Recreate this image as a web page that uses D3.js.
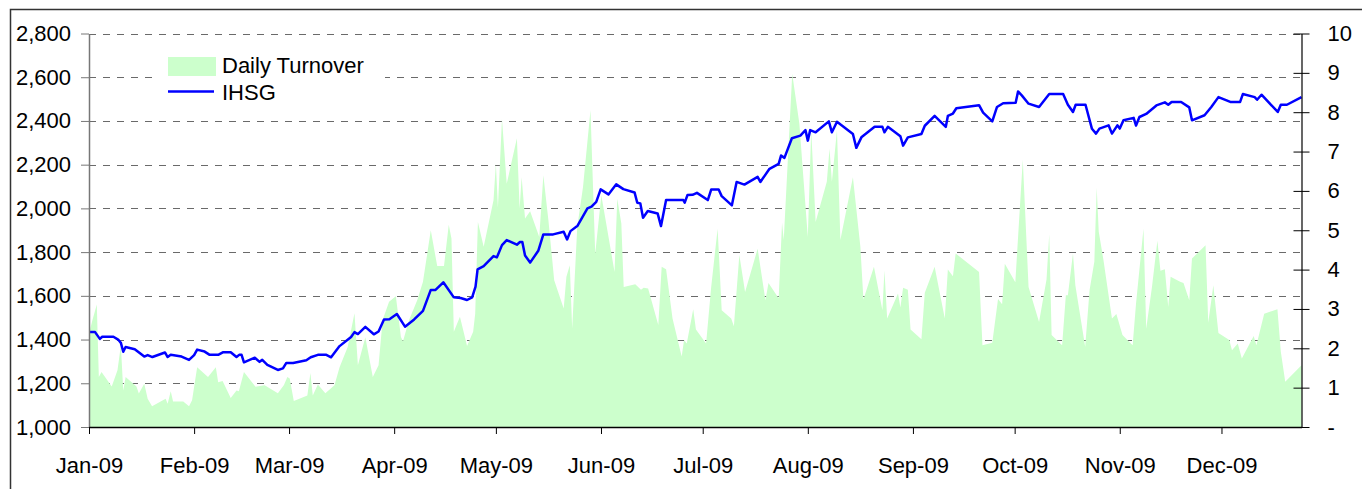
<!DOCTYPE html>
<html>
<head>
<meta charset="utf-8">
<script src="https://cdn.jsdelivr.net/npm/d3@7"></script>
<style>
  html, body { margin: 0; padding: 0; background: #ffffff; }
  svg { display: block; font-family: "Liberation Sans", Arial, sans-serif; }
</style>
</head>
<body>
<div id="chart"></div>
<script>
// IHSG index vs daily turnover, 2009
// Days are counted from 1 Jan 2009 (day 0)

const ihsgDays = [
  0, 1.8, 3.2, 3.9, 7.2, 8.6, 9.4, 10.1, 10.8, 13.5, 16.3, 17.3, 18.7, 22.4, 23.2, 24.1,
  27.3, 29.5, 31, 31.9, 34.1, 35.6, 38.1, 39.6, 41.8, 43.5, 44.3, 45, 45.7, 48.9, 50.3, 51.1,
  52.6, 55.7, 57.2, 58.2, 60.2, 64.1, 65.4, 67.5, 70, 71.4, 73.9, 77.3, 78.3, 79.3, 81.5, 84,
  85.4, 87, 88.6, 90.8, 93.2, 95.9, 98.5, 100.8, 102.2, 104.5, 107.6, 109.6, 111.5, 113, 114, 114.6,
  116.4, 119.3, 120.3, 121.8, 123.2, 126.2, 127.1, 127.8, 128.6, 130.1, 132.5, 134, 136.9, 140, 141, 142,
  144.1, 147, 148.2, 149.6, 150.9, 153.2, 155.5, 157.6, 160.9, 161.7, 162.6, 163.4, 164.8, 167.7, 168.7, 170.2,
  175.3, 175.7, 176.5, 178, 179.3, 182.5, 183.5, 185.7, 186.6, 189.6, 191, 193.3, 197.2, 198, 200.7, 203.4,
  204.1, 205.1, 207.3, 209.8, 211.3, 212, 212.7, 214.3, 218.2, 219.1, 220.6, 225.3, 226.3, 227.8, 231.7, 234,
  234.6, 235.6, 239.3, 240.1, 241.5, 245.5, 246.5, 249.4, 252.7, 253.3, 254.8, 255.8, 262.5, 263.7, 266.4, 267.8,
  269.6, 273.3, 274, 275.1, 277.1, 280.2, 283.2, 287.3, 288.7, 290.2, 291, 293.9, 295.8, 297, 298, 300.7,
  301.7, 303.3, 304, 305.1, 308.1, 308.8, 309.8, 311.8, 314.8, 317.3, 318.3, 319.3, 322.1, 324.5, 325.3, 329,
  331, 333.1, 336.6, 339.5, 340.3, 343.8, 344.5, 345.8, 350.6, 351.5, 353.3, 357.6
];
const ihsgValues = [
  1434, 1434, 1403, 1413, 1413, 1400, 1385, 1344, 1366, 1356, 1322, 1329, 1320, 1341, 1320, 1330,
  1322, 1307, 1329, 1354, 1345, 1330, 1330, 1342, 1342, 1320, 1330, 1330, 1296, 1317, 1298, 1307,
  1284, 1261, 1268, 1293, 1293, 1305, 1319, 1330, 1330, 1319, 1370, 1412, 1434, 1425, 1458, 1424,
  1437, 1492, 1493, 1517, 1459, 1492, 1531, 1627, 1627, 1662, 1593, 1590, 1581, 1593, 1642, 1721,
  1736, 1782, 1776, 1832, 1855, 1834, 1846, 1846, 1784, 1752, 1806, 1881, 1881, 1893, 1858, 1896,
  1921, 2000, 2008, 2030, 2087, 2064, 2110, 2088, 2073, 2026, 2023, 1957, 1988, 1977, 1919, 2038,
  2038, 2026, 2061, 2062, 2071, 2038, 2086, 2086, 2056, 2014, 2121, 2109, 2144, 2121, 2181, 2204,
  2242, 2231, 2321, 2333, 2358, 2310, 2358, 2348, 2398, 2348, 2396, 2340, 2277, 2325, 2373, 2373,
  2348, 2373, 2330, 2287, 2325, 2340, 2378, 2423, 2373, 2423, 2434, 2458, 2472, 2438, 2398, 2464,
  2481, 2483, 2535, 2517, 2479, 2464, 2523, 2523, 2474, 2441, 2474, 2474, 2364, 2342, 2365, 2380,
  2342, 2380, 2365, 2403, 2414, 2379, 2418, 2432, 2471, 2485, 2474, 2487, 2487, 2462, 2403, 2426,
  2464, 2509, 2487, 2487, 2523, 2509, 2497, 2520, 2441, 2474, 2474, 2509
];

const turnoverDays = [
  0, 1, 2.3, 2.9, 3.7, 6.7, 8.4, 9.4, 10.1, 10.8, 14, 14.7, 16.3, 17.3, 18.6, 22.6,
  23.2, 24.1, 24.8, 27.8, 29.5, 30.4, 31.9, 35.1, 37.4, 38.1, 39.4, 41.8, 43.5, 44.2, 45.7, 49.1,
  51.8, 55.7, 57.5, 58.5, 59.2, 60.4, 64.4, 65.3, 66, 67.5, 69.7, 72.4, 73.9, 76.3, 78.3, 79.3,
  81.5, 83.7, 85.4, 86.6, 88.5, 90.5, 92, 92.6, 94.4, 96.8, 98.5, 100.8, 102.7, 104.7, 106.1, 106.9,
  107.6, 109.4, 111.5, 113.3, 113.9, 114.7, 116.4, 119.3, 120, 120.6, 121.8, 123.2, 126.2, 127, 127.6, 128.6,
  130.1, 132.8, 134, 135.5, 137.2, 140, 140.8, 141.8, 142.5, 144, 145.7, 147.9, 149.3, 151.1, 155, 155.8,
  157, 157.7, 161.1, 162.8, 163.6, 164.9, 167.9, 168.9, 170.2, 172.1, 174.8, 175.5, 176.3, 178.2, 179, 182,
  183.5, 185.4, 186.6, 189.4, 190.2, 191.8, 193.5, 197.2, 199.5, 200.4, 203.4, 204.4, 204.9, 207.4, 209.5, 212,
  213, 214.3, 217.6, 218.4, 219.1, 220.6, 221.6, 225.3, 227.5, 228.4, 231.5, 234, 234.6, 235.4, 238.6, 239.3,
  240.1, 241.5, 242.3, 245.5, 246.5, 249.4, 252.4, 253.3, 254.8, 255.6, 262.5, 263.5, 266.4, 268.1, 269.3, 270.1,
  273.2, 275.4, 277.1, 280.2, 282.4, 283.2, 283.9, 287, 288.1, 288.7, 290.2, 290.9, 293.8, 295.1, 296.5, 297.2,
  297.8, 299.2, 301.7, 303, 304.8, 307.8, 308.8, 311, 311.8, 313.5, 315.1, 316, 317.3, 318.3, 319, 321.8,
  322.8, 324.5, 325.3, 329.3, 330.1, 331.6, 333.1, 336.3, 337.1, 338.8, 340, 343.5, 344.3, 346.6, 350.5, 351.5,
  352.8, 357.6
];
const turnoverValues = [
  2.37, 2.71, 3.11, 1.27, 1.40, 1.03, 1.44, 2.07, 0.93, 1.27, 1.03, 0.85, 1.10, 0.72, 0.53, 0.72,
  0.59, 0.91, 0.65, 0.65, 0.53, 0.68, 1.52, 1.27, 1.52, 1.14, 1.17, 0.74, 0.93, 0.91, 1.40, 1.02,
  1.06, 0.86, 1.07, 1.27, 1.23, 0.66, 0.80, 1.37, 0.80, 1.08, 0.86, 1.06, 1.52, 2.03, 2.89, 1.57,
  2.28, 1.27, 1.57, 2.72, 3.18, 3.32, 2.29, 2.18, 2.72, 3.22, 3.69, 5.00, 4.09, 4.09, 5.14, 4.79,
  2.42, 2.80, 2.06, 2.42, 2.88, 5.21, 4.58, 5.76, 6.69, 5.57, 7.83, 6.18, 7.34, 5.55, 6.35, 5.30,
  5.48, 4.83, 6.40, 5.25, 3.73, 3.01, 3.82, 4.11, 2.50, 5.08, 6.10, 8.05, 4.41, 5.89, 3.94, 5.80,
  5.17, 3.56, 3.63, 3.49, 3.54, 3.52, 2.59, 4.07, 4.01, 2.76, 1.79, 2.21, 2.12, 2.99, 2.48, 2.12,
  3.56, 5.04, 2.97, 2.76, 2.56, 4.37, 3.43, 4.53, 3.22, 3.66, 3.27, 5.19, 4.75, 8.98, 7.71, 4.83,
  7.54, 5.21, 6.23, 7.07, 6.23, 7.54, 4.75, 6.35, 4.58, 3.24, 4.07, 2.97, 3.98, 2.76, 3.39, 3.04,
  3.54, 3.49, 2.48, 2.23, 3.41, 4.07, 2.76, 4.00, 3.83, 4.41, 3.94, 2.08, 2.14, 3.25, 3.12, 4.15,
  3.68, 6.79, 3.56, 2.67, 3.75, 4.90, 2.34, 2.08, 3.35, 3.35, 4.41, 3.60, 2.04, 3.48, 4.20, 6.08,
  4.96, 4.24, 2.76, 2.87, 2.34, 2.08, 3.14, 5.04, 2.50, 3.56, 4.73, 3.97, 4.01, 3.05, 3.82, 3.69,
  3.66, 3.22, 4.28, 4.62, 2.65, 3.60, 2.39, 2.21, 1.95, 2.12, 1.74, 2.31, 2.08, 2.88, 2.99, 1.91,
  1.15, 1.57
];

const leftTicks = [1000, 1200, 1400, 1600, 1800, 2000, 2200, 2400, 2600, 2800];
const rightTicks = [0, 1, 2, 3, 4, 5, 6, 7, 8, 9, 10];
const seriesNames = ["Daily Turnover", "IHSG"];

// Set up dimensions
const width = 1362;
const height = 489;
const plot = { left: 89, right: 1301.5, top: 33.5, bottom: 427 };

const t0 = Date.UTC(2009, 0, 1);
const dayToDate = d => new Date(t0 + d * 864e5);

const ihsg = ihsgDays.map((d, i) => ({ date: dayToDate(d), value: ihsgValues[i] }));
const turnover = turnoverDays.map((d, i) => ({ date: dayToDate(d), value: turnoverValues[i] }));

// Create SVG
const svg = d3.select("#chart")
  .append("svg")
  .attr("width", width)
  .attr("height", height);

// Outer chart border (runs off the right and bottom edge)
svg.append("rect")
  .attr("x", 10.5)
  .attr("y", 9.5)
  .attr("width", 1400)
  .attr("height", 520)
  .attr("fill", "#ffffff")
  .attr("stroke", "#333333")
  .attr("stroke-width", 1.5);

// Create scales
const xScale = d3.scaleUtc()
  .domain([dayToDate(0), dayToDate(357.6)])
  .range([plot.left, plot.right]);

const yLeft = d3.scaleLinear()
  .domain([1000, 2800])
  .range([plot.bottom, plot.top]);

const yRight = d3.scaleLinear()
  .domain([0, 10])
  .range([plot.bottom, plot.top]);

// Dashed grid from the left axis
svg.append("g")
  .selectAll("line")
  .data(leftTicks.filter(v => v > 1000))
  .enter()
  .append("line")
  .attr("x1", plot.left)
  .attr("x2", plot.right)
  .attr("y1", d => Math.round(yLeft(d)) + 0.5)
  .attr("y2", d => Math.round(yLeft(d)) + 0.5)
  .attr("stroke", "#6a6a6a")
  .attr("stroke-width", 1)
  .attr("stroke-dasharray", "7,7");

// Turnover area (right axis)
const area = d3.area()
  .x(d => xScale(d.date))
  .y0(yRight(0))
  .y1(d => yRight(d.value));

svg.append("path")
  .datum(turnover)
  .attr("d", area)
  .attr("fill", "#ccffcc");

// IHSG line (left axis)
const line = d3.line()
  .x(d => xScale(d.date))
  .y(d => yLeft(d.value));

svg.append("path")
  .datum(ihsg)
  .attr("d", line)
  .attr("fill", "none")
  .attr("stroke", "#0000ff")
  .attr("stroke-width", 2.5)
  .attr("stroke-linejoin", "round");

// Left axis
const leftAxis = svg.append("g")
  .attr("transform", `translate(${plot.left},0)`)
  .call(d3.axisLeft(yLeft)
    .tickValues(leftTicks)
    .tickFormat(d3.format(","))
    .tickSize(8)
    .tickSizeOuter(0)
    .tickPadding(10));
leftAxis.select(".domain").attr("stroke", "#777777").attr("stroke-width", 1.5);
leftAxis.selectAll(".tick line").attr("stroke", "#777777");
leftAxis.selectAll("text")
  .attr("fill", "#000000")
  .style("font-size", "22px");

// Right axis, ticks cross the line
const rightAxis = svg.append("g")
  .attr("transform", `translate(${plot.right},0)`)
  .call(d3.axisRight(yRight)
    .tickValues(rightTicks)
    .tickFormat(d => d === 0 ? "-" : d)
    .tickSize(8)
    .tickSizeOuter(0)
    .tickPadding(18));
rightAxis.select(".domain").attr("stroke", "#000000").attr("stroke-width", 1.2);
rightAxis.selectAll(".tick line").attr("x1", -8).attr("stroke", "#000000");
rightAxis.selectAll("text")
  .attr("fill", "#000000")
  .style("font-size", "22px");

// Bottom axis
const xAxis = svg.append("g")
  .attr("transform", `translate(0,${plot.bottom})`)
  .call(d3.axisBottom(xScale)
    .ticks(d3.utcMonth.every(1))
    .tickFormat(d3.utcFormat("%b-%y"))
    .tickSize(7)
    .tickSizeOuter(0)
    .tickPadding(23));
xAxis.select(".domain").attr("stroke", "#000000").attr("stroke-width", 1.5);
xAxis.selectAll(".tick line").attr("stroke", "#000000");
xAxis.selectAll("text")
  .attr("fill", "#000000")
  .style("font-size", "22px");

// Legend
const legend = svg.append("g");

legend.append("rect")
  .attr("x", 152)
  .attr("y", 46)
  .attr("width", 233)
  .attr("height", 62)
  .attr("fill", "#ffffff");

legend.append("rect")
  .attr("x", 168)
  .attr("y", 57)
  .attr("width", 48)
  .attr("height", 19)
  .attr("fill", "#ccffcc");

legend.append("line")
  .attr("x1", 168)
  .attr("x2", 214)
  .attr("y1", 91.5)
  .attr("y2", 91.5)
  .attr("stroke", "#0000ff")
  .attr("stroke-width", 2.5);

legend.selectAll("text")
  .data(seriesNames)
  .enter()
  .append("text")
  .attr("x", 222)
  .attr("y", (d, i) => 73 + i * 27)
  .attr("fill", "#000000")
  .style("font-size", "22px")
  .text(d => d);
</script>
</body>
</html>
